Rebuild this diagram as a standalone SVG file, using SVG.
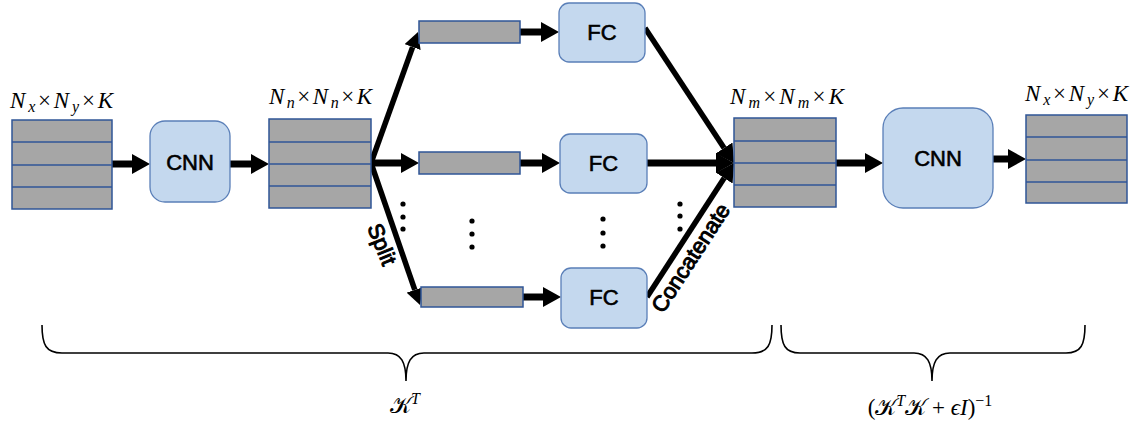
<svg xmlns="http://www.w3.org/2000/svg" width="1135" height="424" viewBox="0 0 1135 424">
<style>
.bar{fill:#a6a6a6;stroke:#2f5597;stroke-width:1.5}
.row{stroke:#2f5597;stroke-width:1.5}
.box{fill:#c4d8ee;stroke:#5a7fb8;stroke-width:1.3}
.lbl{font-family:"Liberation Sans",Arial,sans-serif;font-size:22px;fill:#000;stroke:#000;stroke-width:0.6;text-anchor:middle}
.rot{stroke-width:1}
.math{font-family:"Liberation Serif","DejaVu Serif",serif;font-size:23px;fill:#000}
.it{font-style:italic}
.h{stroke:#000;stroke-width:7;fill:none}
.d{stroke:#000;stroke-width:5.5;fill:none}
.brace{stroke:#000;stroke-width:1.6;fill:none}
</style>
<defs>
<marker id="ah" markerUnits="userSpaceOnUse" markerWidth="18" markerHeight="20" refX="0" refY="10" orient="auto"><path d="M0,0 L18,10 L0,20 z" fill="#000"/></marker>
<marker id="ahs" markerUnits="userSpaceOnUse" markerWidth="16" markerHeight="17" refX="0" refY="8.5" orient="auto"><path d="M0,0 L16,8.5 L0,17 z" fill="#000"/></marker>
</defs>

<g id="connectors">
<line class="h" x1="112" y1="164" x2="132" y2="164" marker-end="url(#ah)"/>
<line class="h" x1="230" y1="164" x2="251" y2="164" marker-end="url(#ah)"/>
<line class="d" x1="371" y1="163" x2="412.6" y2="47.1" marker-end="url(#ahs)"/>
<line class="h" x1="371" y1="163" x2="401" y2="163" marker-end="url(#ah)"/>
<line class="d" x1="371" y1="163" x2="414.8" y2="289.9" marker-end="url(#ahs)"/>
<line class="h" x1="520" y1="32" x2="541" y2="32" marker-end="url(#ah)"/>
<line class="h" x1="520" y1="163" x2="542" y2="163" marker-end="url(#ah)"/>
<line class="h" x1="523" y1="297" x2="543" y2="297" marker-end="url(#ah)"/>
<line class="d" x1="645" y1="28" x2="724.1" y2="148" marker-end="url(#ah)"/>
<line class="h" x1="647" y1="163" x2="716" y2="163" marker-end="url(#ah)"/>
<line class="d" x1="647" y1="297" x2="724.2" y2="178.1" marker-end="url(#ah)"/>
<line class="h" x1="836" y1="163" x2="865" y2="163" marker-end="url(#ah)"/>
<line class="h" x1="993" y1="159" x2="1008" y2="159" marker-end="url(#ah)"/>
</g>

<g id="input">
<rect class="bar" x="12" y="120" width="100" height="89"/>
<line class="row" x1="12" y1="142" x2="112" y2="142"/>
<line class="row" x1="12" y1="165" x2="112" y2="165"/>
<line class="row" x1="12" y1="187" x2="112" y2="187"/>
<text class="math" x="10" y="108" textLength="103" lengthAdjust="spacing"><tspan class="it">N</tspan><tspan class="it" font-size="16" dy="4">x</tspan><tspan dy="-4">×</tspan><tspan class="it">N</tspan><tspan class="it" font-size="16" dy="4">y</tspan><tspan dy="-4">×</tspan><tspan class="it">K</tspan></text>
</g>

<g id="cnn1">
<rect class="box" x="150" y="121" width="80" height="81" rx="15"/>
<text class="lbl" x="190" y="170">CNN</text>
</g>

<g id="feat1">
<rect class="bar" x="269" y="119" width="102" height="89"/>
<line class="row" x1="269" y1="142" x2="371" y2="142"/>
<line class="row" x1="269" y1="164" x2="371" y2="164"/>
<line class="row" x1="269" y1="186" x2="371" y2="186"/>
<text class="math" x="269" y="104" textLength="103" lengthAdjust="spacing"><tspan class="it">N</tspan><tspan class="it" font-size="16" dy="4">n</tspan><tspan dy="-4">×</tspan><tspan class="it">N</tspan><tspan class="it" font-size="16" dy="4">n</tspan><tspan dy="-4">×</tspan><tspan class="it">K</tspan></text>
</g>

<g id="bar1"><rect class="bar" x="419" y="21" width="101" height="22"/></g>
<g id="bar2"><rect class="bar" x="419" y="152" width="101" height="22"/></g>
<g id="bar3"><rect class="bar" x="421" y="287" width="102" height="20"/></g>

<g id="fc1"><rect class="box" x="559" y="3" width="86" height="59" rx="10"/><text class="lbl" x="602" y="40" font-size="21">FC</text></g>
<g id="fc2"><rect class="box" x="560" y="134" width="87" height="59" rx="10"/><text class="lbl" x="603.5" y="171" font-size="21">FC</text></g>
<g id="fc3"><rect class="box" x="561" y="268" width="86" height="60" rx="10"/><text class="lbl" x="604" y="305" font-size="21">FC</text></g>

<g id="dots" fill="#000">
<circle cx="403" cy="204" r="2.6"/><circle cx="403" cy="217" r="2.6"/><circle cx="403" cy="229" r="2.6"/>
<circle cx="472" cy="221" r="2.6"/><circle cx="472" cy="234" r="2.6"/><circle cx="472" cy="247" r="2.6"/>
<circle cx="603" cy="219" r="2.6"/><circle cx="603" cy="233" r="2.6"/><circle cx="603" cy="246" r="2.6"/>
<circle cx="680" cy="204" r="2.6"/><circle cx="680" cy="216" r="2.6"/><circle cx="680" cy="229" r="2.6"/>
</g>

<g id="split-label"><text class="lbl rot" font-size="20" transform="translate(375,247) rotate(68)">Split</text></g>
<g id="concat-label"><text class="lbl rot" font-size="22" transform="translate(697,262) rotate(-57)">Concatenate</text></g>

<g id="feat2">
<rect class="bar" x="734" y="118" width="102" height="89"/>
<line class="row" x1="734" y1="141" x2="836" y2="141"/>
<line class="row" x1="734" y1="163" x2="836" y2="163"/>
<line class="row" x1="734" y1="185" x2="836" y2="185"/>
<text class="math" x="730" y="104" textLength="114" lengthAdjust="spacing"><tspan class="it">N</tspan><tspan class="it" font-size="16" dy="4">m</tspan><tspan dy="-4">×</tspan><tspan class="it">N</tspan><tspan class="it" font-size="16" dy="4">m</tspan><tspan dy="-4">×</tspan><tspan class="it">K</tspan></text>
</g>

<g id="cnn2">
<rect class="box" x="883" y="108" width="110" height="100" rx="20"/>
<text class="lbl" x="938" y="166">CNN</text>
</g>

<g id="output">
<rect class="bar" x="1026" y="115" width="101" height="88"/>
<line class="row" x1="1026" y1="137" x2="1127" y2="137"/>
<line class="row" x1="1026" y1="160" x2="1127" y2="160"/>
<line class="row" x1="1026" y1="182" x2="1127" y2="182"/>
<text class="math" x="1025" y="101" textLength="103" lengthAdjust="spacing"><tspan class="it">N</tspan><tspan class="it" font-size="16" dy="4">x</tspan><tspan dy="-4">×</tspan><tspan class="it">N</tspan><tspan class="it" font-size="16" dy="4">y</tspan><tspan dy="-4">×</tspan><tspan class="it">K</tspan></text>
</g>

<g id="brace-left">
<path class="brace" d="M42,325 C42,345 46,353 62,353 L388,353 C401,353 406,362 406,381 C406,362 411,353 424,353 L752,353 C768,353 772,345 772,325"/>
<text class="math" x="405" y="413" text-anchor="middle" font-size="24">𝒦<tspan class="it" font-size="16" dy="-9">T</tspan></text>
</g>
<g id="brace-right">
<path class="brace" d="M781,325 C781,345 785,353 800,353 L914,353 C927,353 932,362 932,381 C932,362 937,353 950,353 L1066,353 C1081,353 1085,345 1085,325"/>
<text class="math" x="930" y="415" text-anchor="middle" font-size="25">(𝒦<tspan class="it" font-size="16" dy="-9">T</tspan><tspan dy="9">𝒦 + </tspan><tspan class="it">ϵI</tspan>)<tspan font-size="16" dy="-9">−1</tspan></text>
</g>
</svg>
